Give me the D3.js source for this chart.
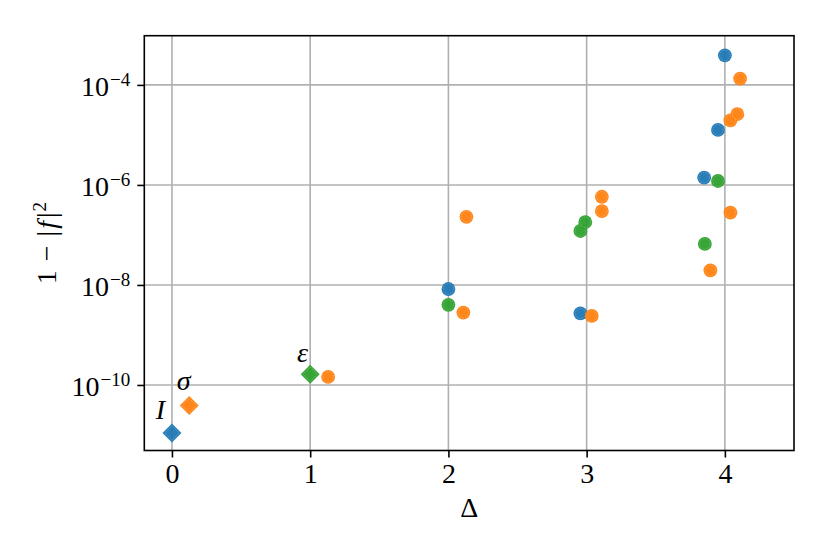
<!DOCTYPE html>
<html>
<head>
<meta charset="utf-8">
<script src="https://cdn.jsdelivr.net/npm/d3@7"></script>
<style>
  html, body { margin: 0; padding: 0; background: #fff; }
  svg { display: block; }
  text { font-family: "Liberation Serif", "DejaVu Serif", serif; fill: #000; }
</style>
</head>
<body>
<svg id="chart" width="830" height="554"></svg>
<script>
// ---- data ----
const xTicks = [0, 1, 2, 3, 4];
const yTickExps = [-4, -6, -8, -10];

const blueDelta = [2.0, 2.955, 3.85, 3.95, 4.0];
const blueValue = [8.3e-9, 2.7e-9, 1.4e-6, 1.26e-5, 3.9e-4];

const greenDelta = [2.0, 2.955, 2.99, 3.855, 3.95];
const greenValue = [4.0e-9, 1.2e-7, 1.8e-7, 6.6e-8, 1.2e-6];

const orangeDelta = [1.13, 2.108, 2.13, 3.037, 3.11, 3.11, 3.895, 4.04, 4.04, 4.09, 4.11];
const orangeValue = [1.45e-10, 2.8e-9, 2.3e-7, 2.4e-9, 3.0e-7, 5.8e-7, 1.96e-8, 2.8e-7, 1.95e-5, 2.6e-5, 1.34e-4];

const primaryLabels = ["I", "σ", "ε"];
const primaryDelta = [0.0, 0.125, 1.0];
const primaryValue = [1.1e-11, 3.9e-11, 1.64e-10];
const primarySeries = ["blue", "orange", "green"];

const colors = { blue: "#1f77b4", orange: "#ff7f0e", green: "#2ca02c" };
const ringColors = { blue: "#6aa5cf", orange: "#ffb066", green: "#76c276" };

// ---- layout ----
const svg = d3.select("#chart");
const L = 144.3, R = 794, T = 35.7, B = 450.5;
const FS = 28;

const x = d3.scaleLinear().domain([-0.2, 4.5]).range([L, R]);
const y = d3.scaleLog().domain([Math.pow(10, -11.31), Math.pow(10, -3.016)]).range([B, T]);

// grid
const grid = svg.append("g");
grid.selectAll("line.gx").data(xTicks).enter().append("line")
  .attr("x1", d => x(d)).attr("x2", d => x(d)).attr("y1", T).attr("y2", B)
  .attr("stroke", "#b0b0b0").attr("stroke-width", 1.6);
grid.selectAll("line.gy").data(yTickExps).enter().append("line")
  .attr("y1", d => y(Math.pow(10, d))).attr("y2", d => y(Math.pow(10, d))).attr("x1", L).attr("x2", R)
  .attr("stroke", "#b0b0b0").attr("stroke-width", 1.6);

// axes
const xAxis = d3.axisBottom(x).tickValues(xTicks).tickSize(7).tickPadding(6).tickFormat(d3.format("d"));
const gx = svg.append("g").attr("transform", `translate(0,${B})`).call(xAxis);
gx.select(".domain").remove();
gx.selectAll(".tick line").attr("stroke", "#000").attr("stroke-width", 1.6);
gx.selectAll(".tick text").attr("font-size", FS).attr("font-family", "Liberation Serif");

const yAxis = d3.axisLeft(y).tickValues(yTickExps.map(e => Math.pow(10, e))).tickSize(7).tickPadding(7).tickFormat(() => "");
const gy = svg.append("g").attr("transform", `translate(${L},0)`).call(yAxis);
gy.select(".domain").remove();
gy.selectAll(".tick line").attr("stroke", "#000").attr("stroke-width", 1.6);
gy.selectAll(".tick text").each(function(d) {
  const e = Math.round(Math.log10(d));
  const t = d3.select(this).attr("font-size", FS).attr("font-family", "Liberation Serif").attr("dy", "0.36em");
  t.text(null);
  t.append("tspan").text("10");
  t.append("tspan").attr("dx", 1).attr("dy", -9.5).attr("font-size", 19).text("\u2212" + Math.abs(e));
});

// markers
const circ = svg.append("g");
function drawCircles(xs, vs, key) {
  const pts = xs.map((d, i) => ({ d: d, v: vs[i] }));
  const g = circ.append("g");
  g.selectAll("circle.m").data(pts).enter().append("circle")
    .attr("cx", p => x(p.d)).attr("cy", p => y(p.v)).attr("r", 6.9)
    .attr("fill", colors[key]).attr("fill-opacity", 0.95);
  g.selectAll("circle.r").data(pts).enter().append("circle")
    .attr("cx", p => x(p.d)).attr("cy", p => y(p.v)).attr("r", 5.2)
    .attr("fill", "none").attr("stroke", ringColors[key]).attr("stroke-width", 0.7)
    .attr("stroke-dasharray", "1.5,1");
}
drawCircles(blueDelta, blueValue, "blue");
drawCircles(orangeDelta, orangeValue, "orange");
drawCircles(greenDelta, greenValue, "green");

// primaries (diamonds)
const prim = primaryDelta.map((d, i) => ({ d: d, v: primaryValue[i], k: primarySeries[i], lab: primaryLabels[i] }));
const outer = d3.symbol().type(d3.symbolSquare).size(180)();
const inner = d3.symbol().type(d3.symbolSquare).size(104)();
const dg = svg.append("g");
prim.forEach(p => {
  const g = dg.append("g").attr("transform", `translate(${x(p.d)},${y(p.v)}) rotate(45)`);
  g.append("path").attr("d", outer).attr("fill", colors[p.k]).attr("fill-opacity", 0.95);
  g.append("path").attr("d", inner).attr("fill", "none").attr("stroke", ringColors[p.k])
    .attr("stroke-width", 0.7).attr("stroke-dasharray", "1.5,1");
});

// labels for primaries
const labOffsets = [[-11.5, -14.3], [-5.6, -15.3], [-7.7, -12.6]];
prim.forEach((p, i) => {
  svg.append("text")
    .attr("x", x(p.d) + labOffsets[i][0]).attr("y", y(p.v) + labOffsets[i][1])
    .attr("text-anchor", "middle").attr("font-size", 28).attr("font-style", "italic")
    .text(p.lab);
});

// frame
svg.append("rect").attr("x", L).attr("y", T).attr("width", R - L).attr("height", B - T)
  .attr("fill", "none").attr("stroke", "#000").attr("stroke-width", 1.6);

// axis labels
svg.append("text").attr("x", (L + R) / 2).attr("y", 517).attr("text-anchor", "middle")
  .attr("font-size", 28).text("\u0394");

const yl = svg.append("text").attr("transform", `translate(56,${(T + B) / 2}) rotate(-90)`)
  .attr("text-anchor", "middle").attr("font-size", 28);
yl.append("tspan").text("1");
yl.append("tspan").attr("dx", 9).text("\u2212");
yl.append("tspan").attr("dx", 9).text("|");
yl.append("tspan").attr("font-style", "italic").attr("dx", 2).text("f");
yl.append("tspan").attr("dx", 3).text("|");
yl.append("tspan").attr("dx", 1).attr("dy", -10).attr("font-size", 19).text("2");
</script>
</body>
</html>
